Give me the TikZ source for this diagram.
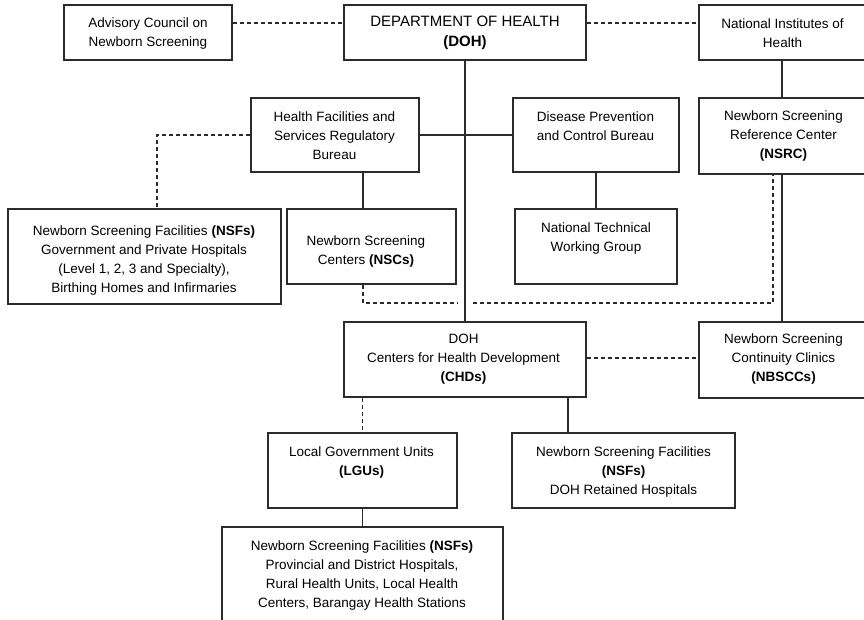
\documentclass[tikz,border=0pt]{standalone}
\usepackage{fontspec}
\setmainfont{Liberation Sans}
\definecolor{orgLine}{HTML}{2B2B2B}

\begin{document}
\begin{tikzpicture}[x=1pt,y=-1pt,line cap=butt,line join=miter]
\path[fill=white] (0,0) rectangle (864,619);
\useasboundingbox (0,0) rectangle (864,619);
\tikzset{orgbox/.style={draw=orgLine,line width=1.2pt},solidline/.style={draw=orgLine,line width=1.2pt},dashline/.style={solidline,dash pattern=on 4pt off 3pt},txt/.style={align=center,inner sep=0pt,font=\fontsize{13.5}{19}\selectfont}}
% top row
\node[orgbox,minimum width=168pt,minimum height=55pt] (adv) at (148,32.5) {};
\node[txt] (advtx) at (148,33.5) {Advisory Council on\\Newborn Screening};
\node[orgbox,minimum width=242pt,minimum height=55pt] (doh) at (465,32.5) {};
\node[txt,font=\fontsize{15}{20}\selectfont] (dohtx) at (465,33) {DEPARTMENT OF HEALTH\\\textbf{(DOH)}};
\node[orgbox,minimum width=166pt,minimum height=55pt] (nih) at (782,32.5) {};
\node[txt] (nihtx) at (782.5,33.5) {National Institutes of\\Health};
% bureaus
\node[orgbox,minimum width=168pt,minimum height=74pt] (hfsrb) at (335,135) {};
\node[txt] (hfsrbtx) at (334.5,136) {Health Facilities and\\Services Regulatory\\Bureau};
\node[orgbox,minimum width=166pt,minimum height=74pt] (dpcb) at (596,135) {};
\node[txt] (dpcbtx) at (595.5,126.5) {Disease Prevention\\and Control Bureau};
\node[orgbox,minimum width=166pt,minimum height=76pt] (nsrc) at (782,136) {};
\node[txt] (nsrctx) at (783.5,136) {Newborn Screening\\Reference Center\\\textbf{(NSRC)}};
% third row
\node[orgbox,minimum width=273pt,minimum height=95pt] (nsfl) at (144.5,256.5) {};
\node[txt] (nsfltx) at (144,260.5) {Newborn Screening Facilities \textbf{(NSFs)}\\Government and Private Hospitals\\(Level 1, 2, 3 and Specialty),\\Birthing Homes and Infirmaries};
\node[orgbox,minimum width=169pt,minimum height=75pt] (nsc) at (371.5,246.5) {};
\node[txt] (nsctx) at (366,252) {Newborn Screening\\Centers \textbf{(NSCs)}};
\node[orgbox,minimum width=162pt,minimum height=75pt] (ntwg) at (596,246.5) {};
\node[txt] (ntwgtx) at (596,239) {National Technical\\Working Group};
% regional level
\node[orgbox,minimum width=242pt,minimum height=75pt] (chd) at (465,359.5) {};
\node[txt] (chdtx) at (463.5,359) {DOH\\Centers for Health Development\\\textbf{(CHDs)}};
\node[orgbox,minimum width=166pt,minimum height=76pt] (nbscc) at (782,360) {};
\node[txt] (nbscctx) at (783.5,359) {Newborn Screening\\Continuity Clinics\\\textbf{(NBSCCs)}};
\node[orgbox,minimum width=189pt,minimum height=75pt] (lgu) at (362.5,470.5) {};
\node[txt] (lgutx) at (361.5,462) {Local Government Units\\\textbf{(LGUs)}};
\node[orgbox,minimum width=223pt,minimum height=75pt] (nsfr) at (623.5,470.5) {};
\node[txt] (nsfrtx) at (623.5,472) {Newborn Screening Facilities\\\textbf{(NSFs)}\\DOH Retained Hospitals};
\node[orgbox,minimum width=281pt,minimum height=95pt] (nsfb) at (362.5,574.5) {};
\node[txt] (nsfbtx) at (362,575.5) {Newborn Screening Facilities \textbf{(NSFs)}\\Provincial and District Hospitals,\\Rural Health Units, Local Health\\Centers, Barangay Health Stations};
% solid lines
\draw[solidline] (doh.south) -- (chd.north);
\draw[solidline] (hfsrb.east) -- (dpcb.west);
\draw[solidline] ([xshift=28pt]hfsrb.south) -- ([xshift=28pt]hfsrb.south |- nsc.north);
\draw[solidline] (dpcb.south) -- (ntwg.north);
\draw[solidline] (nih.south) -- (nsrc.north);
\draw[solidline] (nsrc.south) -- (nbscc.north);
\draw[solidline] ([xshift=103pt]chd.south) -- ([xshift=103pt]chd.south |- nsfr.north);
\draw[solidline] (lgu.south) -- (nsfb.north);
% dashed lines
\coordinate (topline) at (0,23);
\draw[dashline] (adv.east |- topline) -- (doh.west |- topline);
\draw[dashline] (doh.east |- topline) -- (nih.west |- topline);
\draw[dashline] (hfsrb.west) -| ([xshift=12.5pt]nsfl.north);
\coordinate (gap) at (doh.south |- 0,303);
\draw[dashline] ([xshift=-8.5pt]nsc.south) |- ([xshift=-8pt]gap);
\draw[dashline] ([xshift=8pt]gap) -| ([xshift=-9pt]nsrc.south);
\draw[dashline] (chd.east |- 0,358) -- (nbscc.west |- 0,358);
\draw[dashline] (lgu.north |- chd.south) -- (lgu.north);
\end{tikzpicture}
\end{document}
